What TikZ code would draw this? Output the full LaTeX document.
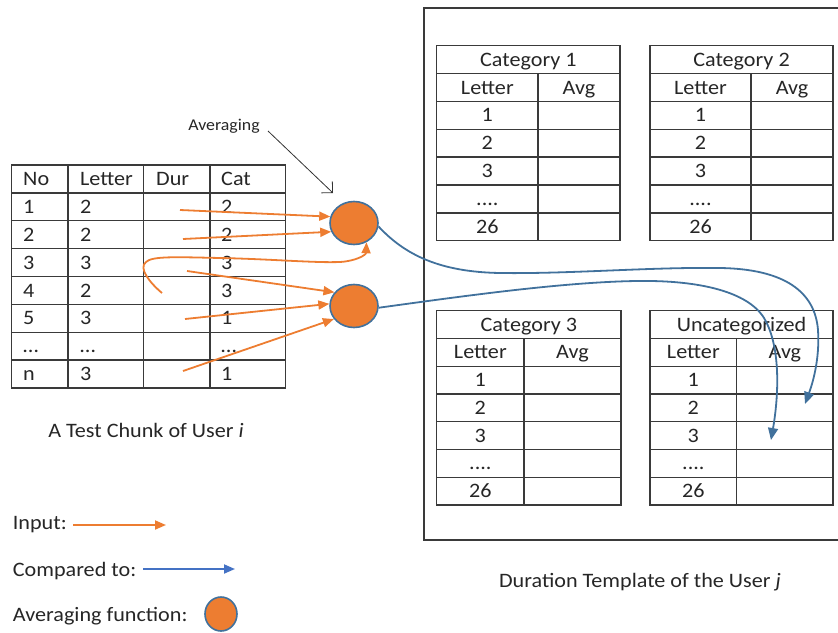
\documentclass[tikz,border=0pt]{standalone}
\usepackage{fontspec}
\setmainfont{Carlito}[FakeStretch=1.08]
\usetikzlibrary{arrows.meta,shapes.geometric}
\definecolor{accOrange}{HTML}{ED7D31}
\definecolor{accBlue}{HTML}{41719C}
\definecolor{legBlue}{HTML}{4472C4}
\definecolor{gridGray}{HTML}{3A3A3A}
\definecolor{inkGray}{HTML}{262626}
\newcommand\mainsize{\fontsize{20.5}{24}\selectfont}
\newcommand\smallsize{\fontsize{16.5}{19}\selectfont}

% one category table of the duration template
% #1 name, #2 left x, #3 divider x, #4 right x, #5 top y, #6 row height, #7 title
\newcommand\tmpl[7]{%
  \pgfmathsetmacro\tx{(#2+#4)/2}%
  \pgfmathsetmacro\lx{(#2+#3)/2}%
  \pgfmathsetmacro\rx{(#3+#4)/2}%
  \draw[grid] (#2,#5) rectangle (#4,#5+7*#6);
  \foreach \k in {1,...,6} \draw[grid] (#2,#5+\k*#6) -- (#4,#5+\k*#6);
  \draw[grid] (#3,#5+#6) -- (#3,#5+7*#6);
  \node[cell,anchor=base] (#1-title) at (\tx,#5+0.5*#6+6.6) {#7};
  \node[cell,anchor=base] (#1-hl) at (\lx,#5+1.5*#6+6.6) {Letter};
  \node[cell,anchor=base] (#1-ha) at (\rx,#5+1.5*#6+6.6) {Avg};
  \node[cell,anchor=base] (#1-r1) at (\lx,#5+2.5*#6+6.6) {1};
  \node[cell,anchor=base] (#1-r2) at (\lx,#5+3.5*#6+6.6) {2};
  \node[cell,anchor=base] (#1-r3) at (\lx,#5+4.5*#6+6.6) {3};
  \node[cell,anchor=base] (#1-r4) at (\lx,#5+5.5*#6+6.6) {....};
  \node[cell,anchor=base] (#1-r5) at (\lx,#5+6.5*#6+6.6) {26};
}

% one row of the test chunk table: #1 row index, #2..#5 cell texts
\newcommand\chunkrow[5]{%
  \pgfmathsetmacro\ry{165+(#1+0.5)*27.875+6.6}%
  \node[cell,anchor=base west] (c#1-no)  at (23,\ry)  {#2};
  \node[cell,anchor=base west] (c#1-let) at (80,\ry)  {#3};
  \node[cell,anchor=base west] (c#1-dur) at (156,\ry) {#4};
  \node[cell,anchor=base west] (c#1-cat) at (221,\ry) {#5};
}

\begin{document}
\begin{tikzpicture}[x=1pt,y=-1pt,
  grid/.style={draw=gridGray,line width=1.3pt},
  frame/.style={draw=gridGray,line width=1.3pt},
  cell/.style={font=\mainsize,text=inkGray,inner sep=0pt},
  label/.style={font=\mainsize,text=inkGray,inner sep=0pt},
  avgnode/.style={ellipse,draw=accBlue,line width=1.6pt,fill=accOrange,
    minimum width=48pt,minimum height=43pt,inner sep=0pt},
  inarrow/.style={draw=accOrange,line width=1.8pt,
    -{Triangle[length=11pt,width=9pt]}},
  cmparrow/.style={draw=accBlue,line width=1.8pt,
    -{Triangle[length=12pt,width=10pt]}},
  legcmp/.style={draw=legBlue,line width=1.8pt,
    -{Triangle[length=11pt,width=9pt]}},
  pointer/.style={draw=black!80,line width=0.8pt,
    -{Straight Barb[length=8pt,width=16pt]}}]

\useasboundingbox (0,0) rectangle (838,632);

% ---------- test chunk table ----------
\draw[grid] (11.5,165) rectangle (285.5,388);
\foreach \k in {1,...,7} \draw[grid] (11.5,165+\k*27.875) -- (285.5,165+\k*27.875);
\foreach \cx in {68,143.7,210} \draw[grid] (\cx,165) -- (\cx,388);
\chunkrow{0}{No}{Letter}{Dur}{Cat}
\chunkrow{1}{1}{2}{}{2}
\chunkrow{2}{2}{2}{}{2}
\chunkrow{3}{3}{3}{}{3}
\chunkrow{4}{4}{2}{}{3}
\chunkrow{5}{5}{3}{}{1}
\chunkrow{6}{…}{…}{}{…}
\chunkrow{7}{n}{3}{}{1}

\node[label,anchor=base] (chunkcap) at (146,437.5) {A Test Chunk of User \textit{i}};

% ---------- duration template ----------
\draw[frame] (845,8) -- (424,8) -- (424,540) -- (845,540);
\tmpl{catA}{436.7}{538}{620}{45.7}{27.86}{Category 1}
\tmpl{catB}{650}{751}{833}{45.7}{27.86}{Category 2}
\tmpl{catC}{436.7}{524}{621}{310.7}{27.76}{Category 3}
\tmpl{catU}{650}{736.7}{833}{310.7}{27.76}{Uncategorized}

\node[label,anchor=base] (tmplcap) at (640,587.5) {Duration Template of the User \textit{j}};

% ---------- averaging functions ----------
\node[avgnode] (avgA) at (354,223) {};
\node[avgnode] (avgB) at (354,306) {};

\node[font=\smallsize,text=inkGray,inner sep=0pt] (avglbl) at (224,126) {Averaging};
\coordinate (ptrS) at (268,131);
\coordinate (ptrE) at (333,193);
\draw[pointer] (ptrS) -- (ptrE);

% inputs taken from the chunk rows
\coordinate (in1) at (180,210);
\coordinate (in2) at (183,239);
\coordinate (in3) at (162,293);
\coordinate (in4) at (187,271);
\coordinate (in5) at (185,319);
\coordinate (in6) at (183,371);
\draw[inarrow] (in1) -- (avgA.165);
\draw[inarrow] (in2) -- (avgA.201);
\draw[inarrow] (in3) .. controls (150,283) and (138,268) .. (146,262)
  .. controls (152,256) and (175,257) .. (220,258)
  .. controls (270,259) and (315,263) .. (340,262)
  .. controls (356,261) and (366,255) .. (avgA.303);
\draw[inarrow] (in4) -- (avgB.145);
\draw[inarrow] (in5) -- (avgB.175);
\draw[inarrow] (in6) -- (avgB.213);

% comparisons against the template
\coordinate (cmpA) at (805,404);
\coordinate (cmpB) at (771,440);
\draw[cmparrow] (avgA.352) .. controls (405,255) and (440,272) .. (500,273)
  .. controls (570,274) and (650,267) .. (720,268)
  .. controls (785,269) and (815,292) .. (818,330)
  .. controls (820,360) and (812,385) .. (cmpA);
\draw[cmparrow] (avgB.356) .. controls (450,298) and (560,282) .. (637,281)
  .. controls (700,280) and (748,292) .. (764,318)
  .. controls (782,348) and (778,400) .. (cmpB);

% ---------- legend ----------
\node[label,anchor=base west] (lgin) at (12.7,529.5) {Input:};
\coordinate (lginS) at (73,525);
\coordinate (lginE) at (166,525);
\draw[inarrow] (lginS) -- (lginE);
\node[label,anchor=base west] (lgcmp) at (12.7,576.5) {Compared to:};
\coordinate (lgcmpS) at (143,569);
\coordinate (lgcmpE) at (235,569);
\draw[legcmp] (lgcmpS) -- (lgcmpE);
\node[label,anchor=base west] (lgavg) at (12.7,621.5) {Averaging function:};
\node[avgnode,minimum width=32pt,minimum height=34pt] (lgcirc) at (221,614) {};

\end{tikzpicture}
\end{document}
